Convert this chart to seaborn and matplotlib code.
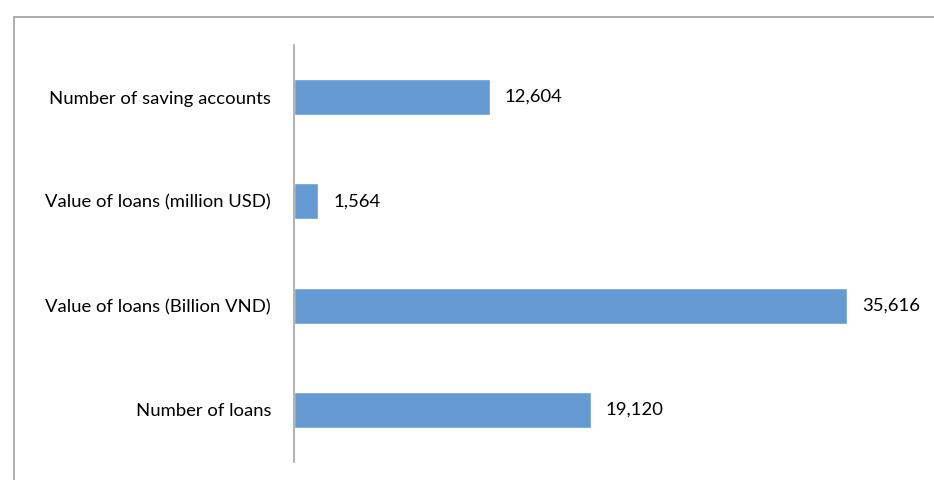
import matplotlib
matplotlib.use("Agg")
import matplotlib.pyplot as plt
from matplotlib.patches import Rectangle
import seaborn as sns
import pandas as pd

categories = [
    "Number of saving accounts",
    "Value of loans (million USD)",
    "Value of loans (Billion VND)",
    "Number of loans",
]
values = [12604, 1564, 35616, 19120]
value_labels = ["12,604", "1,564", "35,616", "19,120"]

sns.set_theme(style="white")
plt.rcParams["font.family"] = ["Lato", "DejaVu Sans"]

df = pd.DataFrame({"category": categories, "value": values})

fig = plt.figure(figsize=(9.34, 4.8), dpi=100)
ax = fig.add_axes([294 / 934, 1 - 462 / 480, (915 - 294) / 934, (462 - 45) / 480])

sns.barplot(data=df, x="value", y="category", orient="h", color="#659AD2",
            saturation=1, width=0.345, ax=ax)

ax.set_xlim(0, 40000)
ax.set_ylim(3.5, -0.5)
ax.set_xlabel("")
ax.set_ylabel("")
ax.set_xticks([])
ax.tick_params(axis="y", length=0, pad=16.5, labelsize=13.3, labelcolor="black")

for side in ["top", "right", "bottom"]:
    ax.spines[side].set_visible(False)
ax.spines["left"].set_color("#a6a6a6")
ax.spines["left"].set_linewidth(1.2)

for i, (v, t) in enumerate(zip(values, value_labels)):
    ax.annotate(t, xy=(v, i), xytext=(10.8, 0), textcoords="offset points",
                ha="left", va="center", fontsize=13.3, color="black")

# outer chart border
fig.patches.append(Rectangle((14 / 934, -0.1), 1.2, 1 - 17 / 480 + 0.1,
                             transform=fig.transFigure, fill=False,
                             edgecolor="#a0a0a0", linewidth=1.2))

fig.savefig("out.png", dpi=100)
